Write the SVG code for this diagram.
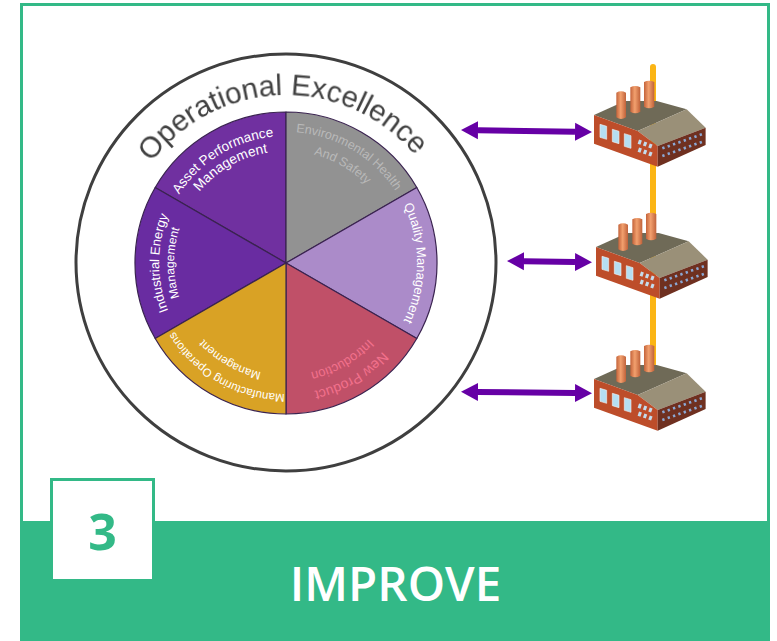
<svg xmlns="http://www.w3.org/2000/svg" width="777" height="641" viewBox="0 0 777 641">
<style>
.sec{stroke:#3a2350;stroke-width:1.2;stroke-linejoin:round}
.lbl{font-family:"Liberation Sans",Arial,sans-serif;font-size:13px;text-anchor:middle;fill:#fff}
.arrow{stroke:#6600a5;stroke-width:6;fill:none;marker-start:url(#head);marker-end:url(#head)}
</style>
<defs>
<marker id="head" markerUnits="userSpaceOnUse" markerWidth="18" markerHeight="20" refX="0" refY="10" orient="auto-start-reverse"><path d="M0,1 L17,10 L0,19 Z" fill="#6600a5"/></marker>
<linearGradient id="chim" x1="0" x2="1" y1="0" y2="0"><stop offset="0" stop-color="#c4633a"/><stop offset=".45" stop-color="#f2a06e"/><stop offset="1" stop-color="#c0623a"/></linearGradient>
<filter id="soft" x="-5%" y="-5%" width="110%" height="110%"><feGaussianBlur stdDeviation="0.45"/></filter>
<path id="a112" d="M174,263 A112,112 0 0 1 398,263"/>
<path id="a127" d="M159,263 A127,127 0 0 1 413,263"/>
<path id="a131" d="M155,263 A131,131 0 0 1 417,263"/>
<path id="a168" d="M118,263 A168,168 0 0 1 454,263"/>
<g id="factory" transform="scale(.3333)">
<path d="M72,165 L165,123 L260,123 L350,148 L203,213 Z" fill="#6f6a57"/>
<path d="M139,98 Q153,90 168,98 L168,172 Q153,182 139,172 Z" fill="url(#chim)"/>
<path d="M181,82 Q196,74 211,82 L211,155 Q196,165 181,155 Z" fill="url(#chim)"/>
<path d="M222,66 Q237,58 253,66 L253,140 Q237,150 222,140 Z" fill="url(#chim)"/>
<path d="M203,213 L350,148 L407,203 L263,258 Z" fill="#9a9078"/>
<path d="M72,165 L203,213 L263,258 L263,320 L72,251 Z" fill="#bd4d2a"/>
<path d="M263,258 L407,203 L407,255 L263,320 Z" fill="#6f3020"/>
<path d="M90,193 L110,199 L110,238 L90,232 Z M127,208 L147,214 L147,251 L127,245 Z M163,221 L183,227 L183,265 L163,259 Z" fill="#b5def2" stroke="#eee" stroke-width="2"/>
<path d="M205,245 L250,261 M205,269 L250,285" stroke="#c4dced" stroke-width="13" stroke-dasharray="9 8" fill="none"/>
<path d="M277,265 L398,222 M277,288 L398,245" stroke="#8aa8d4" stroke-width="8" stroke-dasharray="7 10" fill="none"/>
</g>
</defs>
<rect x="0" y="0" width="777" height="641" fill="#fff"/>
<rect x="21.500" y="4.500" width="747" height="530" fill="#fff" stroke="#33b987" stroke-width="3"/>
<rect x="20" y="521" width="750" height="120" fill="#33b987"/>
<g id="badge">
<rect x="51.500" y="479.500" width="102" height="101" fill="#fff" stroke="#33b987" stroke-width="3"/>
<text x="102.500" y="550" font-family="'Noto Sans','Open Sans',sans-serif" font-weight="700" font-size="50" fill="#33b987" text-anchor="middle">3</text>
</g>
<text id="title" x="395.500" y="601" font-family="'Open Sans','Noto Sans',sans-serif" font-weight="600" font-size="47.500" fill="#fff" text-anchor="middle">IMPROVE</text>

<g id="excellence">
<ellipse cx="286" cy="262.500" rx="210" ry="208.500" fill="#fff" stroke="#3f3f3f" stroke-width="3"/>
<text font-family="'Liberation Sans',Arial,sans-serif" font-size="29.500" fill="#404040" text-anchor="middle" filter="url(#soft)" transform="rotate(-1.500 286 263)"><textPath href="#a168" startOffset="50%">Operational Excellence</textPath></text>
</g>
<g id="sector-asset"><path class="sec" d="M286,263 L155.200,187.500 A151,151 0 0 1 286,112 Z" fill="#7030a0"/>
<text class="lbl" style="font-size:13.500px" transform="rotate(-31.500 286 263)"><textPath href="#a127" startOffset="50%">Asset Performance</textPath></text>
<text class="lbl" style="font-size:13.800px" transform="rotate(-30 286 263)"><textPath href="#a112" startOffset="50%">Management</textPath></text></g>
<g id="sector-ehs"><path class="sec" d="M286,263 L286,112 A151,151 0 0 1 416.800,187.500 Z" fill="#929292"/>
<text class="lbl" style="fill:#b9b9b9;font-size:12.500px" transform="rotate(30.500 286 263)"><textPath href="#a131" startOffset="50%">Environmental Health</textPath></text>
<text class="lbl" style="fill:#b9b9b9;font-size:12.500px" transform="rotate(30 286 263)"><textPath href="#a112" startOffset="50%">And Safety</textPath></text></g>
<g id="sector-quality"><path class="sec" d="M286,263 L416.800,187.500 A151,151 0 0 1 416.800,338.500 Z" fill="#ab8bc9" stroke="#7a52a8"/>
<text class="lbl" transform="rotate(90 286 263)"><textPath href="#a131" startOffset="50%">Quality Management</textPath></text></g>
<g id="sector-npi"><path class="sec" d="M286,263 L416.800,338.500 A151,151 0 0 1 286,414 Z" fill="#c05068"/>
<text class="lbl" style="fill:#f2708c;font-size:14px" transform="rotate(150 286 263)"><textPath href="#a131" startOffset="50%">New Product</textPath></text>
<text class="lbl" style="fill:#f2708c" transform="rotate(150 286 263)"><textPath href="#a112" startOffset="50%">Introduction</textPath></text></g>
<g id="sector-energy"><path class="sec" d="M286,263 L155.200,338.500 A151,151 0 0 1 155.200,187.500 Z" fill="#692ca1"/>
<text class="lbl" transform="rotate(-90 286 263)"><textPath href="#a127" startOffset="50%">Industrial Energy</textPath></text>
<text class="lbl" style="font-size:12px" transform="rotate(-90 286 263)"><textPath href="#a112" startOffset="50%">Management</textPath></text></g>
<g id="sector-mfg"><path class="sec" d="M286,263 L286,414 A151,151 0 0 1 155.200,338.500 Z" fill="#d9a225"/>
<text class="lbl" style="font-size:11.500px" transform="rotate(209.500 286 263)"><textPath href="#a131" startOffset="50%">Manufacturing Operations</textPath></text>
<text class="lbl" style="font-size:11.500px" transform="rotate(210 286 263)"><textPath href="#a112" startOffset="50%">Management</textPath></text></g>

<g id="connectors">
<path d="M653,67 L653,375" stroke="#fbb515" stroke-width="6" stroke-linecap="round" fill="none"/>
<line class="arrow" x1="478" y1="130.300" x2="575" y2="131.700"/>
<line class="arrow" x1="524" y1="261.300" x2="575" y2="262"/>
<line class="arrow" x1="478" y1="392" x2="575" y2="393"/>
</g>
<g id="factory-1" transform="translate(570,60)"><use href="#factory"/></g>
<g id="factory-2" transform="translate(572,192)"><use href="#factory"/></g>
<g id="factory-3" transform="translate(570,324)"><use href="#factory"/></g>
</svg>
